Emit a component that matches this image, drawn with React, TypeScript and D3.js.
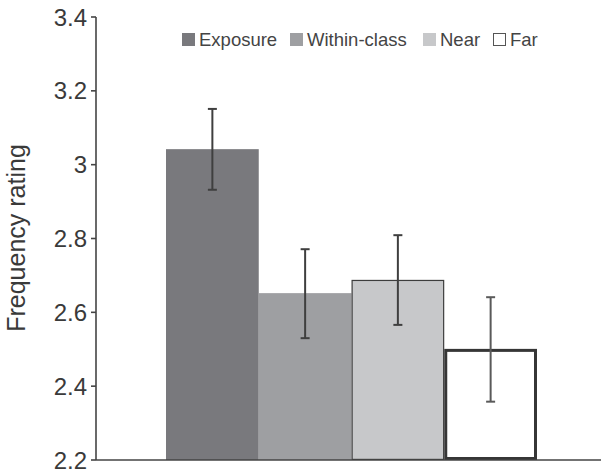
import React from "react";
import * as d3 from "d3";

const conditions = ["Exposure", "Within-class", "Near", "Far"];
const means = [3.042, 2.652, 2.688, 2.501];
const errUpper = [3.151, 2.771, 2.809, 2.641];
const errLower = [2.932, 2.53, 2.566, 2.358];
const yTicks = [2.2, 2.4, 2.6, 2.8, 3, 3.2, 3.4];
const fills = ["#79797d", "#9e9fa2", "#c7c8ca", "#ffffff"];
const strokes = ["#79797d", "#9e9fa2", "#3d3d3d", "#363636"];
const strokeWidths = [0, 0, 1.2, 3];
const errColors = ["#3f3f3f", "#3f3f3f", "#3f3f3f", "#5a5a5a"];
const legendX = [182, 290, 423, 493];

const width = 602;
const height = 475;
const axisX = 96;
const axisEnd = 601;

const font = "'Liberation Sans', Arial, Helvetica, sans-serif";

export default function App() {
  const y = d3.scaleLinear().domain([2.2, 3.4]).range([460, 17]);
  const x = d3.scaleBand().domain(conditions).range([166, 537]).padding(0);
  const fmt = (d: number) => (d === 3 ? "3" : d.toFixed(1));

  return (
    <svg
      width={width}
      height={height}
      style={{ position: "absolute", left: 0, top: 0, background: "#fff" }}
    >
      {/* bars */}
      {conditions.map((c, i) => {
        const sw = strokeWidths[i];
        return (
          <rect
            key={c}
            x={(x(c) as number) + sw / 2}
            y={y(means[i]) + sw / 2}
            width={x.bandwidth() - sw}
            height={y(2.2) - y(means[i]) - sw}
            fill={fills[i]}
            stroke={sw > 0 ? strokes[i] : "none"}
            strokeWidth={sw}
          />
        );
      })}

      {/* error bars */}
      {conditions.map((c, i) => {
        const cx = (x(c) as number) + x.bandwidth() / 2;
        return (
          <g key={c} stroke={errColors[i]} strokeWidth={2}>
            <line x1={cx} x2={cx} y1={y(errUpper[i])} y2={y(errLower[i])} />
            <line x1={cx - 4.5} x2={cx + 4.5} y1={y(errUpper[i])} y2={y(errUpper[i])} />
            <line x1={cx - 4.5} x2={cx + 4.5} y1={y(errLower[i])} y2={y(errLower[i])} />
          </g>
        );
      })}

      {/* axes */}
      <line x1={axisX} x2={axisEnd} y1={y(2.2)} y2={y(2.2)} stroke="#444" strokeWidth={1.6} />
      <line x1={axisX} x2={axisX} y1={y(3.4)} y2={y(2.2)} stroke="#444" strokeWidth={1.6} />
      {yTicks.map((t) => (
        <g key={t}>
          <line x1={axisX - 5} x2={axisX} y1={y(t)} y2={y(t)} stroke="#444" strokeWidth={1.6} />
          <text
            x={axisX - 9}
            y={y(t)}
            dy="0.36em"
            textAnchor="end"
            fontFamily={font}
            fontSize={24}
            fill="#3a3a3a"
          >
            {fmt(t)}
          </text>
        </g>
      ))}

      <text
        transform={`translate(25, ${238}) rotate(-90)`}
        textAnchor="middle"
        fontFamily={font}
        fontSize={25}
        fill="#3a3a3a"
      >
        Frequency rating
      </text>

      {/* legend */}
      {conditions.map((c, i) => (
        <g key={c}>
          <rect
            x={legendX[i] + 0.5}
            y={33.5}
            width={12}
            height={12}
            fill={fills[i]}
            stroke={i === 3 ? "#555" : fills[i]}
            strokeWidth={1}
          />
          <text
            x={legendX[i] + 17}
            y={46}
            fontFamily={font}
            fontSize={18.5}
            fill="#444"
          >
            {c}
          </text>
        </g>
      ))}
    </svg>
  );
}
